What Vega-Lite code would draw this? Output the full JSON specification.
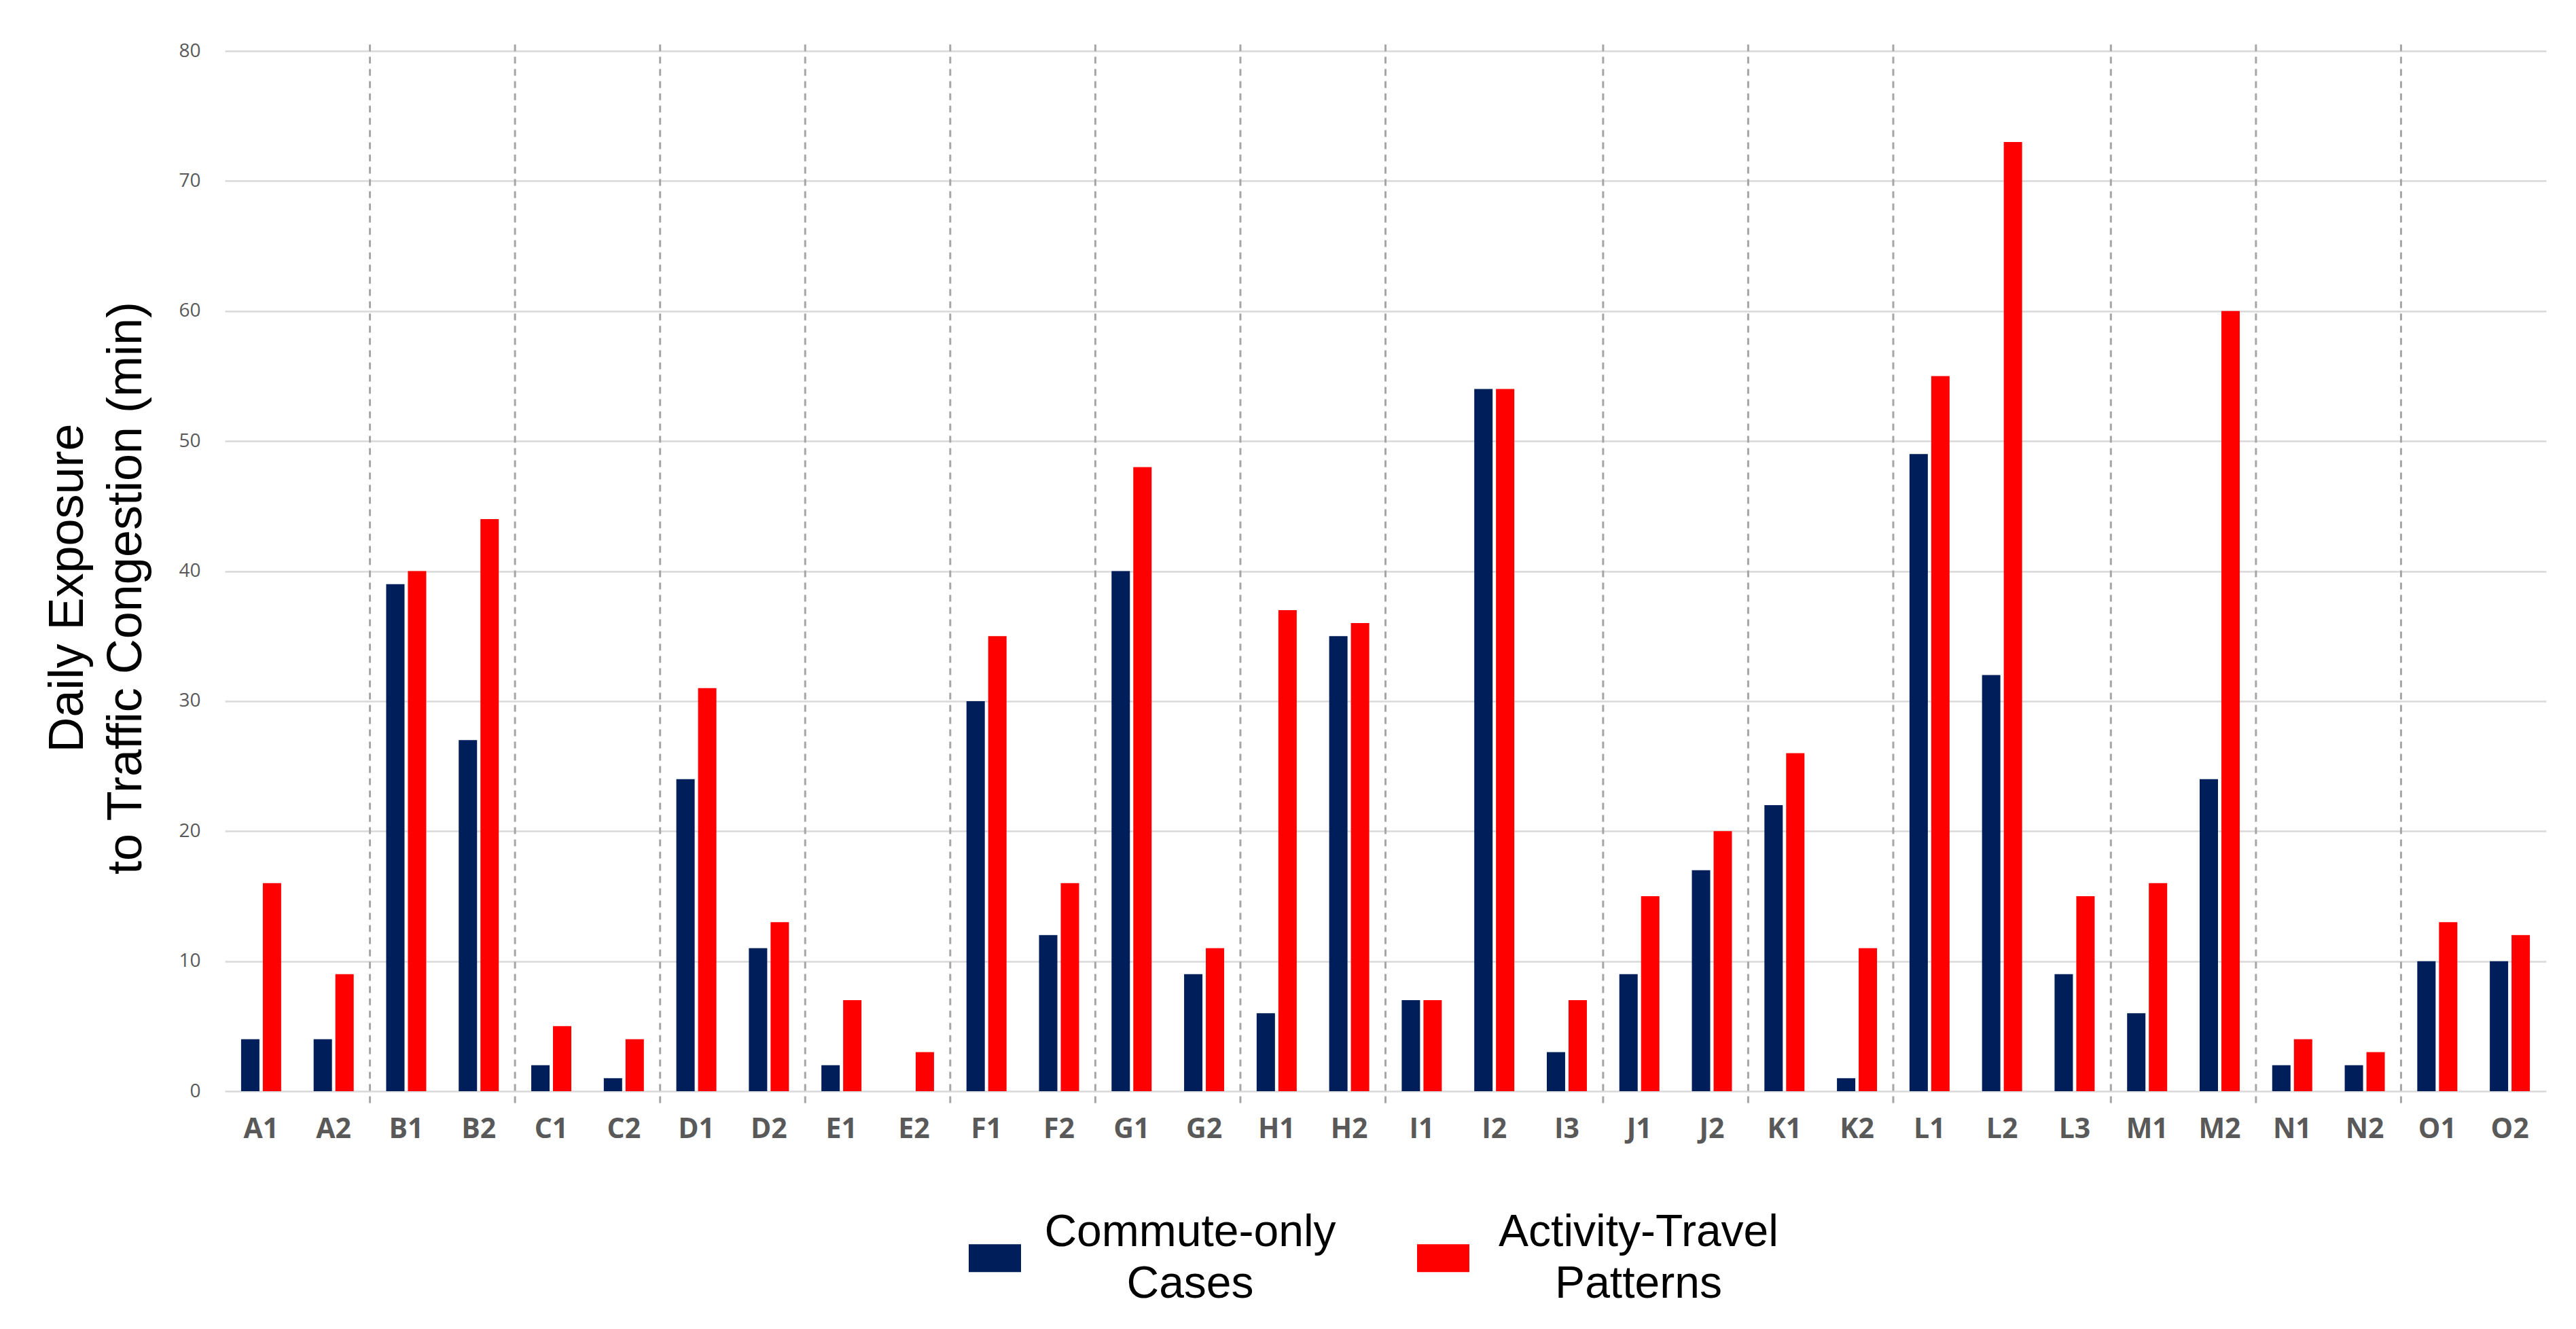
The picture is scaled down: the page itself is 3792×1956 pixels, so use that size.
{
  "$schema": "https://vega.github.io/schema/vega-lite/v6.json",
  "width": 3417,
  "height": 1531,
  "autosize": {"type": "none"},
  "padding": {"left": 331, "top": 75, "right": 44, "bottom": 350},
  "background": "white",
  "datasets": {
    "bars": [
      {"case": "A1", "series": "Commute-only Cases", "minutes": 4},
      {"case": "A1", "series": "Activity-Travel Patterns", "minutes": 16},
      {"case": "A2", "series": "Commute-only Cases", "minutes": 4},
      {"case": "A2", "series": "Activity-Travel Patterns", "minutes": 9},
      {"case": "B1", "series": "Commute-only Cases", "minutes": 39},
      {"case": "B1", "series": "Activity-Travel Patterns", "minutes": 40},
      {"case": "B2", "series": "Commute-only Cases", "minutes": 27},
      {"case": "B2", "series": "Activity-Travel Patterns", "minutes": 44},
      {"case": "C1", "series": "Commute-only Cases", "minutes": 2},
      {"case": "C1", "series": "Activity-Travel Patterns", "minutes": 5},
      {"case": "C2", "series": "Commute-only Cases", "minutes": 1},
      {"case": "C2", "series": "Activity-Travel Patterns", "minutes": 4},
      {"case": "D1", "series": "Commute-only Cases", "minutes": 24},
      {"case": "D1", "series": "Activity-Travel Patterns", "minutes": 31},
      {"case": "D2", "series": "Commute-only Cases", "minutes": 11},
      {"case": "D2", "series": "Activity-Travel Patterns", "minutes": 13},
      {"case": "E1", "series": "Commute-only Cases", "minutes": 2},
      {"case": "E1", "series": "Activity-Travel Patterns", "minutes": 7},
      {"case": "E2", "series": "Commute-only Cases", "minutes": 0},
      {"case": "E2", "series": "Activity-Travel Patterns", "minutes": 3},
      {"case": "F1", "series": "Commute-only Cases", "minutes": 30},
      {"case": "F1", "series": "Activity-Travel Patterns", "minutes": 35},
      {"case": "F2", "series": "Commute-only Cases", "minutes": 12},
      {"case": "F2", "series": "Activity-Travel Patterns", "minutes": 16},
      {"case": "G1", "series": "Commute-only Cases", "minutes": 40},
      {"case": "G1", "series": "Activity-Travel Patterns", "minutes": 48},
      {"case": "G2", "series": "Commute-only Cases", "minutes": 9},
      {"case": "G2", "series": "Activity-Travel Patterns", "minutes": 11},
      {"case": "H1", "series": "Commute-only Cases", "minutes": 6},
      {"case": "H1", "series": "Activity-Travel Patterns", "minutes": 37},
      {"case": "H2", "series": "Commute-only Cases", "minutes": 35},
      {"case": "H2", "series": "Activity-Travel Patterns", "minutes": 36},
      {"case": "I1", "series": "Commute-only Cases", "minutes": 7},
      {"case": "I1", "series": "Activity-Travel Patterns", "minutes": 7},
      {"case": "I2", "series": "Commute-only Cases", "minutes": 54},
      {"case": "I2", "series": "Activity-Travel Patterns", "minutes": 54},
      {"case": "I3", "series": "Commute-only Cases", "minutes": 3},
      {"case": "I3", "series": "Activity-Travel Patterns", "minutes": 7},
      {"case": "J1", "series": "Commute-only Cases", "minutes": 9},
      {"case": "J1", "series": "Activity-Travel Patterns", "minutes": 15},
      {"case": "J2", "series": "Commute-only Cases", "minutes": 17},
      {"case": "J2", "series": "Activity-Travel Patterns", "minutes": 20},
      {"case": "K1", "series": "Commute-only Cases", "minutes": 22},
      {"case": "K1", "series": "Activity-Travel Patterns", "minutes": 26},
      {"case": "K2", "series": "Commute-only Cases", "minutes": 1},
      {"case": "K2", "series": "Activity-Travel Patterns", "minutes": 11},
      {"case": "L1", "series": "Commute-only Cases", "minutes": 49},
      {"case": "L1", "series": "Activity-Travel Patterns", "minutes": 55},
      {"case": "L2", "series": "Commute-only Cases", "minutes": 32},
      {"case": "L2", "series": "Activity-Travel Patterns", "minutes": 73},
      {"case": "L3", "series": "Commute-only Cases", "minutes": 9},
      {"case": "L3", "series": "Activity-Travel Patterns", "minutes": 15},
      {"case": "M1", "series": "Commute-only Cases", "minutes": 6},
      {"case": "M1", "series": "Activity-Travel Patterns", "minutes": 16},
      {"case": "M2", "series": "Commute-only Cases", "minutes": 24},
      {"case": "M2", "series": "Activity-Travel Patterns", "minutes": 60},
      {"case": "N1", "series": "Commute-only Cases", "minutes": 2},
      {"case": "N1", "series": "Activity-Travel Patterns", "minutes": 4},
      {"case": "N2", "series": "Commute-only Cases", "minutes": 2},
      {"case": "N2", "series": "Activity-Travel Patterns", "minutes": 3},
      {"case": "O1", "series": "Commute-only Cases", "minutes": 10},
      {"case": "O1", "series": "Activity-Travel Patterns", "minutes": 13},
      {"case": "O2", "series": "Commute-only Cases", "minutes": 10},
      {"case": "O2", "series": "Activity-Travel Patterns", "minutes": 12}
    ],
    "groupStarts": [
      {"case": "B1", "top": 80.5, "bottom": -1},
      {"case": "C1", "top": 80.5, "bottom": -1},
      {"case": "D1", "top": 80.5, "bottom": -1},
      {"case": "E1", "top": 80.5, "bottom": -1},
      {"case": "F1", "top": 80.5, "bottom": -1},
      {"case": "G1", "top": 80.5, "bottom": -1},
      {"case": "H1", "top": 80.5, "bottom": -1},
      {"case": "I1", "top": 80.5, "bottom": -1},
      {"case": "J1", "top": 80.5, "bottom": -1},
      {"case": "K1", "top": 80.5, "bottom": -1},
      {"case": "L1", "top": 80.5, "bottom": -1},
      {"case": "M1", "top": 80.5, "bottom": -1},
      {"case": "N1", "top": 80.5, "bottom": -1},
      {"case": "O1", "top": 80.5, "bottom": -1}
    ]
  },
  "layer": [
    {
      "data": {"name": "bars"},
      "mark": {"type": "bar"},
      "encoding": {
        "x": {
          "field": "case",
          "type": "nominal",
          "scale": {
            "domain": ["A1","A2","B1","B2","C1","C2","D1","D2","E1","E2","F1","F2","G1","G2","H1","H2","I1","I2","I3","J1","J2","K1","K2","L1","L2","L3","M1","M2","N1","N2","O1","O2"],
            "paddingInner": 0,
            "paddingOuter": 0
          },
          "axis": {
            "title": null,
            "labelAngle": 0,
            "labelFont": "Open Sans",
            "labelFontWeight": "bold",
            "labelFontSize": 41,
            "labelColor": "#595959",
            "labelPadding": 36,
            "ticks": false,
            "domain": false,
            "grid": false
          }
        },
        "xOffset": {
          "field": "series",
          "type": "nominal",
          "scale": {
            "domain": ["Commute-only Cases", "Activity-Travel Patterns"],
            "paddingInner": 0.156,
            "paddingOuter": 0.747
          }
        },
        "y": {
          "field": "minutes",
          "type": "quantitative",
          "scale": {"domain": [0, 80]},
          "axis": {
            "title": ["Daily Exposure", "to Traffic Congestion (min)"],
            "titleFont": "Liberation Sans",
            "titleFontWeight": "normal",
            "titleFontSize": 72,
            "titleLineHeight": 86,
            "titleColor": "black",
            "titlePadding": 40,
            "titleY": 790,
            "values": [0, 10, 20, 30, 40, 50, 60, 70, 80],
            "labelFont": "Open Sans",
            "labelFontSize": 28,
            "labelColor": "#595959",
            "labelPadding": 36,
            "ticks": false,
            "domain": false,
            "grid": true,
            "gridColor": "#d9d9d9",
            "gridWidth": 2.5
          }
        },
        "color": {
          "field": "series",
          "type": "nominal",
          "scale": {
            "domain": ["Commute-only Cases", "Activity-Travel Patterns"],
            "range": ["#001e5a", "#ff0000"]
          },
          "legend": {
            "title": null,
            "orient": "none",
            "direction": "horizontal",
            "legendX": 1095,
            "legendY": 1738,
            "symbolType": "M-1,-0.53H1V0.53H-1Z",
            "symbolSize": 5929,
            "symbolStrokeWidth": 0,
            "labelFont": "Liberation Sans",
            "labelFontSize": 66,
            "labelColor": "black",
            "labelLimit": 0,
            "labelAlign": "center",
            "labelOffset": 249,
            "labelExpr": "datum.label == 'Commute-only Cases' ? ['Commute-only', 'Cases'] : ['Activity-Travel', 'Patterns']",
            "columnPadding": 119,
            "encode": {
              "labels": {"update": {"lineHeight": {"value": 76}, "dy": {"value": -38}}}
            }
          }
        }
      }
    },
    {
      "data": {"name": "groupStarts"},
      "mark": {"type": "rule", "color": "#a6a6a6", "strokeWidth": 3, "strokeDash": [10, 8]},
      "encoding": {
        "x": {"field": "case", "type": "nominal", "bandPosition": 0},
        "y": {"field": "top", "type": "quantitative"},
        "y2": {"field": "bottom"}
      }
    }
  ],
  "config": {
    "view": {"stroke": null}
  }
}
